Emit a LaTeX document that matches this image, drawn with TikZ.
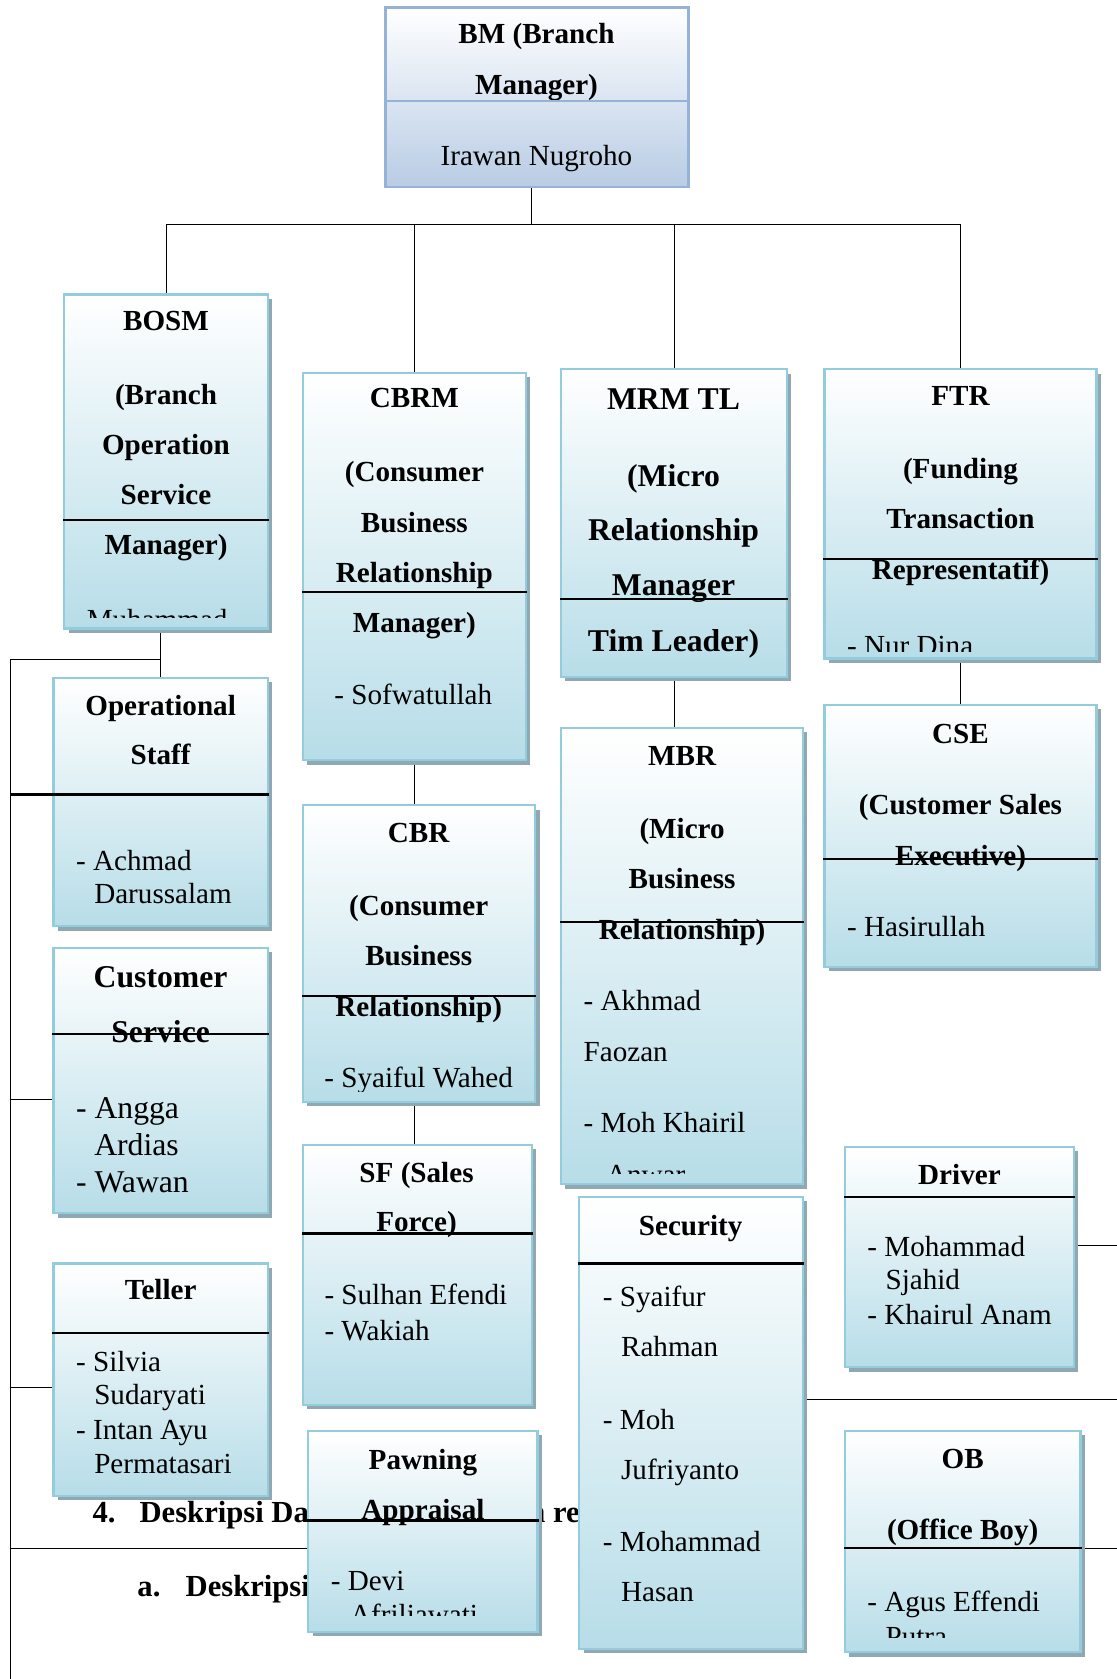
\documentclass[tikz,border=0pt]{standalone}
\usepackage{fontspec}
\setmainfont{Liberation Serif}
\usetikzlibrary{fit,shadows,backgrounds}

\definecolor{cardline}{HTML}{93CDDD}
\definecolor{cardfill}{HTML}{B7DDE8}
\definecolor{cardshadow}{HTML}{8FA8B2}
\definecolor{bmline}{HTML}{95B3D7}
\definecolor{bmfill}{HTML}{B8CCE4}

\begin{document}
\begin{tikzpicture}[x=0.5pt, y=-0.5pt, line width=1.05pt,
    card/.style={draw=cardline, line width=1pt, top color=white, bottom color=cardfill, inner sep=0pt,
        drop shadow={shadow xshift=2pt, shadow yshift=-2pt, fill=cardshadow, opacity=1}},
    bmcard/.style={draw=bmline, line width=1pt, top color=white, bottom color=bmfill, inner sep=0pt},
    title/.style={font=\fontsize{13.6}{16}\selectfont\bfseries, anchor=base, inner sep=0pt},
    bigtitle/.style={title, font=\fontsize{14.8}{17}\selectfont\bfseries},
    staff/.style={font=\fontsize{13.6}{16}\selectfont, anchor=base west, inner sep=0pt},
    bigstaff/.style={staff, font=\fontsize{14.8}{17}\selectfont},
    back/.style={font=\fontsize{14.3}{17}\selectfont\bfseries, anchor=base west, inner sep=0pt},
    divider/.style={draw=black, line width=1pt}]

    \useasboundingbox (0,0) rectangle (1043,1568);

    % branch manager
    \node[bmcard, fit={(360,7) (643,175)}] (bm) {};
    \foreach \Y/\T [count=\i] in {41/BM (Branch, 88/Manager)}
        \node[title] (bm-\i) at (501,\Y) {\T};
    \node[staff, anchor=base] (bm-name) at (501,155) {Irawan Nugroho};
    \draw[divider, draw=bmline] (bm.west |- 0,94) -- (bm.east |- 0,94);

    % first row
    \node[card, fit={(60,275) (250,587)}] (bosm) {};
    \foreach \Y/\T [count=\i] in {309/BOSM, 378/(Branch, 424/Operation, 471/Service, 518/Manager)}
        \node[title] (bosm-\i) at (155,\Y) {\T};
    \begin{scope}
        \clip (bosm.north west) rectangle ([yshift=5.5pt]bosm.south east);
        \node[staff] (bosm-name) at (80,588) {Muhammad};
    \end{scope}
    \draw[divider] (bosm.west |- 0,486) -- (bosm.east |- 0,486);

    \node[card, fit={(283,348) (491,710)}] (cbrm) {};
    \foreach \Y/\T [count=\i] in {381/CBRM, 450/(Consumer, 497/Business, 544/Relationship, 591/Manager)}
        \node[title] (cbrm-\i) at (387,\Y) {\T};
    \node[staff, anchor=base] (cbrm-name) at (386,658) {- Sofwatullah};
    \draw[divider] (cbrm.west |- 0,553) -- (cbrm.east |- 0,553);

    \node[card, fit={(524,345) (735,632)}] (mrm) {};
    \foreach \Y/\T [count=\i] in {382/MRM TL, 454/(Micro, 505/Relationship, 556/Manager, 608/Tim Leader)}
        \node[bigtitle] (mrm-\i) at (629,\Y) {\T};
    \draw[divider] (mrm.west |- 0,559) -- (mrm.east |- 0,559);

    \node[card, fit={(770,345) (1024,615)}] (ftr) {};
    \foreach \Y/\T [count=\i] in {379/FTR, 447/(Funding, 494/Transaction, 541/Representatif)}
        \node[title] (ftr-\i) at (897,\Y) {\T};
    \begin{scope}
        \clip (ftr.north west) rectangle ([yshift=4pt]ftr.south east);
        \node[staff] (ftr-name) at (790,612) {- Nur Dina};
    \end{scope}
    \draw[divider] (ftr.west |- 0,522) -- (ftr.east |- 0,522);

    % operations column
    \node[card, fit={(50,633) (250,865)}] (ops) {};
    \foreach \Y/\T [count=\i] in {668/Operational, 714/Staff}
        \node[title] (ops-\i) at (150,\Y) {\T};
    \foreach \X/\Y/\T [count=\i] in {70/813/- Achmad, 87/844/Darussalam}
        \node[staff] (ops-name\i) at (\X,\Y) {\T};

    \node[card, fit={(50,885) (250,1133)}] (cs) {};
    \foreach \Y/\T [count=\i] in {922/Customer, 974/Service}
        \node[bigtitle] (cs-\i) at (150,\Y) {\T};
    \foreach \X/\Y/\T [count=\i] in {70/1045/- Angga, 87/1079/Ardias, 70/1114/- Wawan}
        \node[bigstaff] (cs-name\i) at (\X,\Y) {\T};
    \draw[divider] (cs.west |- 0,966) -- (cs.east |- 0,966);

    \node[card, fit={(50,1180) (250,1397)}] (tel) {};
    \node[title] (tel-1) at (150,1214) {Teller};
    \foreach \X/\Y/\T [count=\i] in {70/1281/- Silvia, 87/1312/Sudaryati, 70/1344/- Intan Ayu, 87/1376/Permatasari}
        \node[staff] (tel-name\i) at (\X,\Y) {\T};
    \draw[divider] (tel.west |- 0,1245) -- (tel.east |- 0,1245);

    % consumer column
    \node[card, fit={(283,752) (500,1029)}] (cbr) {};
    \foreach \Y/\T [count=\i] in {787/CBR, 855/(Consumer, 902/Business, 949/Relationship)}
        \node[title] (cbr-\i) at (391,\Y) {\T};
    \begin{scope}
        \clip (cbr.north west) rectangle ([yshift=5.5pt]cbr.south east);
        \node[staff, anchor=base] (cbr-name) at (391,1016) {- Syaiful Wahed};
    \end{scope}
    \draw[divider] (cbr.west |- 0,930) -- (cbr.east |- 0,930);

    \node[card, fit={(283,1069) (497,1312)}] (sf) {};
    \foreach \Y/\T [count=\i] in {1104/SF (Sales, 1150/Force)}
        \node[title] (sf-\i) at (389,\Y) {\T};
    \foreach \X/\Y/\T [count=\i] in {302/1218/- Sulhan Efendi, 302/1252/- Wakiah}
        \node[staff] (sf-name\i) at (\X,\Y) {\T};
    \draw[divider] (sf.west |- 0,1152) -- (sf.east |- 0,1152);

    \node[card, fit={(288,1336) (502,1524)}] (pwn) {};
    \foreach \Y/\T [count=\i] in {1372/Pawning, 1419/Appraisal}
        \node[title] (pwn-\i) at (395,\Y) {\T};
    \begin{scope}
        \clip (pwn.north west) rectangle ([yshift=8pt]pwn.south east);
        \foreach \X/\Y/\T [count=\i] in {308/1485/- Devi, 326/1517/Afriliawati}
            \node[staff] (pwn-name\i) at (\X,\Y) {\T};
    \end{scope}
    \draw[divider] (pwn.west |- 0,1420) -- (pwn.east |- 0,1420);

    % micro column
    \node[card, fit={(524,680) (750,1106)}] (mbr) {};
    \foreach \Y/\T [count=\i] in {715/MBR, 783/(Micro, 830/Business, 877/Relationship)}
        \node[title] (mbr-\i) at (637,\Y) {\T};
    \begin{scope}
        \clip (mbr.north west) rectangle ([yshift=5.5pt]mbr.south east);
        \foreach \X/\Y/\T [count=\i] in {544/944/- Akhmad, 544/991/Faozan, 544/1058/- Moh Khairil, 565/1106/Anwar}
            \node[staff] (mbr-name\i) at (\X,\Y) {\T};
    \end{scope}
    \draw[divider] (mbr.west |- 0,861) -- (mbr.east |- 0,861);

    \node[card, fit={(541,1118) (750,1540)}] (sec) {};
    \node[title] (sec-1) at (645,1154) {Security};
    \foreach \X/\Y/\T [count=\i] in {562/1220/- Syaifur, 579/1267/Rahman, 562/1335/- Moh,
                                     579/1382/Jufriyanto, 562/1449/- Mohammad, 579/1496/Hasan}
        \node[staff] (sec-name\i) at (\X,\Y) {\T};
    \draw[divider] (sec.west |- 0,1180) -- (sec.east |- 0,1180);

    % funding column
    \node[card, fit={(770,658) (1024,903)}] (cse) {};
    \foreach \Y/\T [count=\i] in {694/CSE, 761/(Customer Sales, 808/Executive)}
        \node[title] (cse-\i) at (897,\Y) {\T};
    \node[staff] (cse-name) at (790,875) {- Hasirullah};
    \draw[divider] (cse.west |- 0,802) -- (cse.east |- 0,802);

    \node[card, fit={(789,1071) (1003,1277)}] (drv) {};
    \node[title] (drv-1) at (896,1106) {Driver};
    \foreach \X/\Y/\T [count=\i] in {809/1173/- Mohammad, 826/1204/Sjahid, 809/1237/- Khairul Anam}
        \node[staff] (drv-name\i) at (\X,\Y) {\T};
    \draw[divider] (drv.west |- 0,1118) -- (drv.east |- 0,1118);

    \node[card, fit={(789,1336) (1009,1543)}] (ob) {};
    \foreach \Y/\T [count=\i] in {1371/OB, 1438/(Office Boy)}
        \node[title] (ob-\i) at (899,\Y) {\T};
    \begin{scope}
        \clip (ob.north west) rectangle ([yshift=7.5pt]ob.south east);
        \foreach \X/\Y/\T [count=\i] in {809/1505/- Agus Effendi, 826/1538/Putra}
            \node[staff] (ob-name\i) at (\X,\Y) {\T};
    \end{scope}
    \draw[divider] (ob.west |- 0,1446) -- (ob.east |- 0,1446);

    % rail on the left, edge on the right
    \coordinate (hub) at (496,210);
    \coordinate (rail) at (10,1568);
    \coordinate (rim) at (1043,1446);
    \draw[divider] (rail |- 0,742) -- (ops.east |- 0,742);

    \begin{scope}[on background layer]
        \node[back] (sec4) at (86,1422) {\makebox[22pt][l]{4.}Deskripsi Da};
        \node[back] (sec4-end) at (493,1422) {n re};
        \node[back] (sec4a) at (128,1491) {\makebox[22.5pt][l]{a.}Deskripsi};

        \draw (bm.south -| hub) -- (hub);
        \draw (bosm.north) |- (hub) -| (ftr.north);
        \draw (cbrm.north) -- (cbrm.north |- hub);
        \draw (mrm.north) -- (mrm.north |- hub);

        \draw (cbrm.south) -- (cbrm.south |- cbr.north);
        \draw (cbrm.south |- cbr.south) -- (cbrm.south |- sf.north);
        \draw (mrm.south) -- (mrm.south |- mbr.north);
        \draw (ftr.south) -- (ftr.south |- cse.north);

        \draw (ops.north |- bosm.south) -- (ops.north);
        \draw ([yshift=8pt]ops.north) -| (rail);
        \draw (rail |- 0,1027) -- (cs.west |- 0,1027);
        \draw (rail |- 0,1296) -- (tel.west |- 0,1296);
        \draw (rail |- rim) -- (pwn.west |- rim);
        \draw (ob.east |- rim) -- (rim);
        \draw (sec.east |- 0,1307) -- (rim |- 0,1307);
        \draw (drv.east |- 0,1163) -- (rim |- 0,1163);
    \end{scope}
\end{tikzpicture}
\end{document}
